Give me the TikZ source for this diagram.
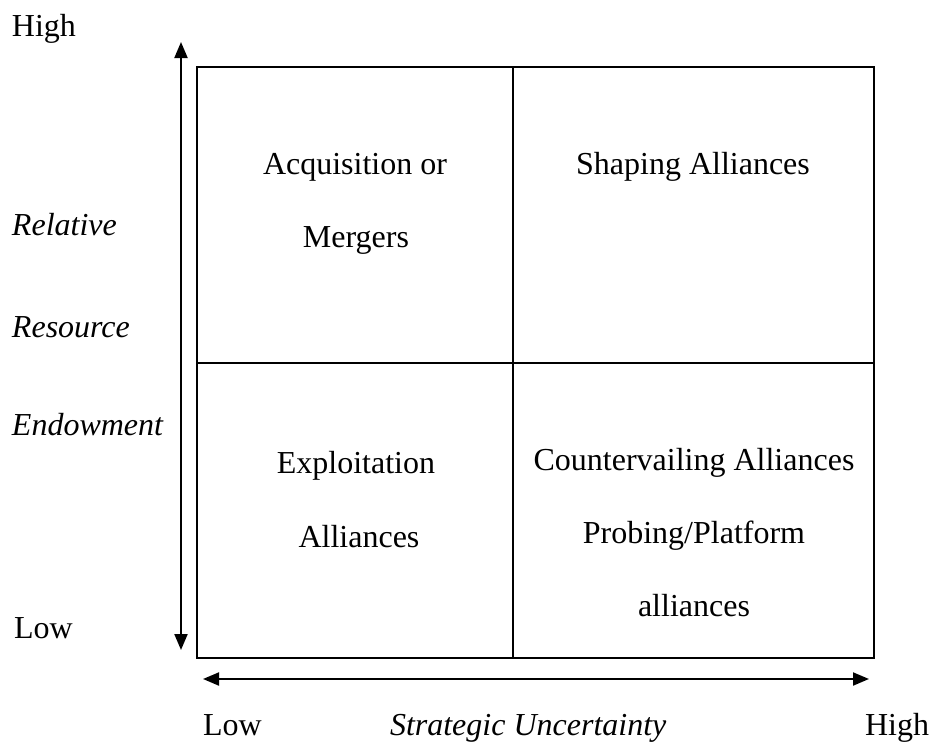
\documentclass[tikz,border=0pt]{standalone}
\usepackage{fontspec}
\setmainfont{Liberation Serif}
\usetikzlibrary{arrows.meta}
\begin{document}
\begin{tikzpicture}[x=1pt,y=-1pt,
  every node/.style={inner sep=0pt,outer sep=0pt,font=\fontsize{32}{38}\selectfont},
  cell/.style={anchor=base},
  lbl/.style={anchor=base west},
  axis/.style={line width=2pt,{Triangle[length=16pt,width=13pt]}-{Triangle[length=16pt,width=13pt]}},
  grid/.style={line width=1.6pt}]
\useasboundingbox (0,0) rectangle (930,745);
% quadrant box
\coordinate (tl) at (197,67);
\coordinate (tr) at (874,67);
\coordinate (bl) at (197,658);
\coordinate (br) at (874,658);
\coordinate (tm) at (513,67);
\coordinate (bm) at (513,658);
\coordinate (lm) at (197,363);
\coordinate (rm) at (874,363);
\draw[grid] (tl) rectangle (br);
\draw[grid] (tm) -- (bm);
\draw[grid] (lm) -- (rm);
% axes
\coordinate (vtop) at (181,42);
\coordinate (vbot) at (181,650);
\coordinate (hl) at (203,679);
\coordinate (hr) at (869,679);
\draw[axis] (vtop) -- (vbot);
\draw[axis] (hl) -- (hr);
% cell texts
\node[cell] (a1) at (355,174) {Acquisition or};
\node[cell] (a2) at (356,247) {Mergers};
\node[cell] (s1) at (693,174) {Shaping Alliances};
\node[cell] (e1) at (356,473) {Exploitation};
\node[cell] (e2) at (359,547) {Alliances};
\node[cell] (c1) at (694,470) {Countervailing Alliances};
\node[cell] (c2) at (694,543) {Probing/Platform};
\node[cell] (c3) at (694,616) {alliances};
% axis labels
\node[lbl] (hy) at (12,36) {High};
\node[lbl] (rel) at (12,235) {\itshape Relative};
\node[lbl] (res) at (12,337) {\itshape Resource};
\node[lbl] (end) at (12,435) {\itshape Endowment};
\node[lbl] (ly) at (14,638) {Low};
\node[lbl] (lx) at (203,735) {Low};
\node[lbl] (su) at (390,735) {\itshape Strategic Uncertainty};
\node[lbl] (hx) at (865,735) {High};
\end{tikzpicture}
\end{document}
